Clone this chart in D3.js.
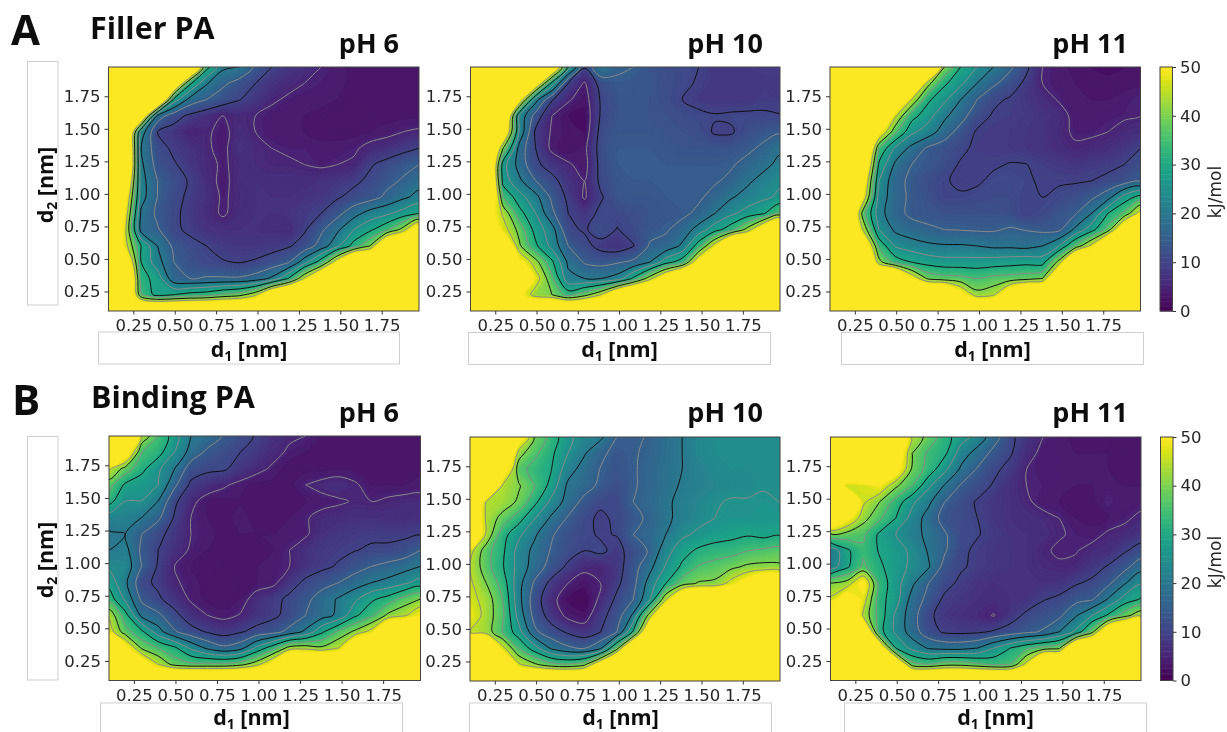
<!DOCTYPE html>
<html>
<head>
<meta charset="utf-8">
<script src="https://cdn.jsdelivr.net/npm/d3@7"></script>
<style>
  html, body { margin: 0; background: #fff; }
  svg { display: block; }
  .tick text { font-family: "DejaVu Sans", sans-serif; font-size: 16.5px; fill: #262626; }
  .tick line, .domain { stroke: #333; }
  .head { font-family: "Open Sans", sans-serif; font-weight: 700; fill: #111; }
</style>
</head>
<body>
<svg id="chart" width="1227" height="732"></svg>
<script>
// free energy in kJ/mol, top row is d2 = 1.975, left column is d1 = 0.1
const fillerPH6 = [
  [70,70,70,70,70,70,32,21,20,14,10,8,7,5,4,3,3,3,3,3],
  [70,70,70,70,62,31,20.5,16,13,10,7.5,6,5,4.5,4,3,3,3,3,3],
  [70,70,70,70,28,18,15,12.5,10.2,8,5.5,4.5,4,4,3.5,3,3,3,3,3],
  [70,70,60,18,12,9,7,5,6,5,4,3.5,3.5,3,2.5,2.5,3,3,3,3],
  [70,70,23,10,8,5,5.5,4,6.5,5,4,3.5,3.5,3,3,3,3.5,4,5,5.5],
  [70,70,20,12,9,7.5,5.5,4,7.5,6,5,4.5,4.5,4,4,4.5,6,7,8.5,10],
  [70,70,21,13,10.5,8,6,4.5,6,6,5.5,5.5,5,4.5,5,5.5,9.5,11.5,13.5,15],
  [70,62,22,15,12,9.5,6.5,4,6.5,7,6.5,6.5,6.5,7,8,9,11,13.5,15.5,18],
  [70,54,22,15,11.5,9,7,4.5,6,7,7,7,7.5,8,9.5,11.5,13,16,19,21.5],
  [70,50,19,14,11,8.5,6.5,4.5,6.5,7,7,7.5,8.5,10,13.5,18,22,24,27,30],
  [70,47,18,15.5,11,9,7.5,7,7,7,6.5,6,9.5,14,19,25,29,34,42,58],
  [70,48,30,20,14,11.5,10,8.5,8,8,8.5,9.5,12,17,24,32,40,62,70,70],
  [70,60,30,22,15,12.5,11,10.3,9.8,10.5,12,14.5,23,33,50,70,70,70,70,70],
  [70,70,32,28,16.5,15,15.5,15.5,15.5,17,21,30,46,62,70,70,70,70,70,70],
  [70,70,35,28,30,32,33,36,38,44,60,70,70,70,70,70,70,70,70,70],
  [70,70,70,70,70,70,70,70,70,70,70,70,70,70,70,70,70,70,70,70]
];
const fillerPH10 = [
  [70,70,70,70,70,60,28,10.5,19.5,16,15,13,12,11,10,8,8,8.5,9,9],
  [70,70,70,70,55,28,10,4.5,12,14,13.5,13,12,11,9.5,8,8,8,8,8],
  [70,70,70,52,22,10.5,5.5,3,10.5,13,13.5,13,12,10,8.5,8,8,8,9,8.5],
  [70,70,65,24,13,5,2.5,2,10.5,13,13,13,12.5,12,11,10.3,10.6,10.8,10.5,10.2],
  [70,70,58,24,9,4.5,3,2.5,11.5,13.5,13.5,13.5,13,12.5,12,9.5,9.5,12,13.5,14.5],
  [70,70,40,18,10,4,2.5,4,12,14,14,14,13.5,13,13,13,13,14,16,19],
  [70,70,27,18,11,8,5.5,3.5,11.5,14,14,14,14,14,14,14,14.5,16.5,18.5,21.5],
  [70,70,28,21,15,11.5,7.5,5,11,13.5,14,14,14,14,14,14.5,16,19,22,24],
  [70,70,35,27,21.5,14,9,4.5,9.5,13,13.5,13.5,14,14,14.3,16.5,19.5,22,24,26],
  [70,55,44,32,25,16,10,8,11,11,12,13,13.5,14,16,20,24,27,29.5,36],
  [70,60,48,38,28,22,11,9.5,12,9.8,11.5,13.5,14.5,17,22,28,33,42,56,70],
  [70,70,62,41,31,23.5,15,11.5,8.5,7.5,9.8,15.5,16.5,21,33,48,70,70,70,70],
  [70,70,70,52,42,31,19,14.5,13.5,14.5,16,20,28,33,52,70,70,70,70,70],
  [70,70,70,70,48,36,21.5,20,20,22,31,43,56,70,70,70,70,70,70,70],
  [70,70,70,52,42,40,33,38,45,60,70,70,70,70,70,70,70,70,70,70],
  [70,70,70,70,70,70,70,70,70,70,70,70,70,70,70,70,70,70,70,70]
];
const fillerPH11 = [
  [70,70,70,70,70,70,70,40,30,25,20,16,11,5,4,3,2.5,2,2.5,3],
  [70,70,70,70,70,68,42,31,26,20,16,12.5,9,5,4,3.5,3,3,3,3],
  [70,70,70,70,65,45,31,26,20,15,11,9.5,8,6.5,4.7,3.5,3.5,3.5,4,5],
  [70,70,70,70,46,32,27,21,17,12,9.5,9,8.5,7.5,6.5,4,4,4.2,4.6,5],
  [70,70,70,52,36,26,22.5,17.5,13,9.5,8.5,8.5,8,7.5,6,4.5,4.5,5,6,6.5],
  [70,70,70,35,24,18.5,14.2,12.5,11,9,8.5,8.5,8,7.5,6.5,5.5,6,6.5,8,10],
  [70,70,62,29,19,15,13.5,12,9.5,9,9.5,10.2,10.1,9,8.5,8,8.5,9,10,12],
  [70,70,55,25,16.5,14,12,10.4,9.2,9.5,10.8,11,10.5,9.5,9.5,9.6,10,11,12.5,14],
  [70,70,50,23,17,14,12.5,10.5,10.5,11,11.5,11.5,10,10,11,12,14,18,27,32],
  [70,70,38,22,16.5,14,13,12.5,12.5,12.5,12.5,12,10,11,13,14.5,20,30,36,48],
  [70,70,45,25,19,17,16,15,14.8,14.5,14.5,15.5,14.8,14,14,21,28,37,58,70],
  [70,70,60,34,24.5,22.5,21,20.5,20.5,20,19,19,18.5,20,25,36,47,68,70,70],
  [70,70,70,42,33,30,28,27,27,27,27.5,28,28.5,28,42,68,70,70,70,70],
  [70,70,70,70,70,50,39,37,36.5,35,36.5,37,38,40,65,70,70,70,70,70],
  [70,70,70,70,70,70,70,70,53,42,44,58,70,70,70,70,70,70,70,70],
  [70,70,70,70,70,70,70,70,70,70,70,70,70,70,70,70,70,70,70,70]
];
const bindingPH6 = [
  [70,70,44,35,27,20,18,14.5,12,9.5,7,5.5,5,3.5,3.5,3,3,3,3,3],
  [70,56,35,32,25,18,14,12,10,8.5,6,4.5,3.5,3,3,3,3,3,3,3],
  [46,38,31.5,26,20,12.5,11,10.7,8,6,4.5,2.5,3,3,3,3,3,3,3,3],
  [37,29,27,25,16,9,7,5.5,4,3,3,3,5,6,7,5.5,3.5,3.5,3.5,4],
  [32,25,25,20,11,6,3.5,3,3.5,3,3,3,3.5,4,4.5,5.3,5,5.5,6,6],
  [22,22,20,16,9.5,5,3.5,3,4,3,3,3.5,4.7,6,6.5,7,7,6.5,6.5,7],
  [19.5,20,15,11.5,8,5,4,3,3.5,3.5,3.5,4,4.5,7,8,8.5,9,9,9,9.5],
  [20,21.5,14,10,7,4.5,3.5,3,3,3,3.5,5,7,8.5,9,9.8,10.7,10.8,12,15],
  [24,23,15,9.5,5,3.5,3,3,3,3.5,4,5,7.5,9,10.5,13,15,16.5,18,20],
  [28,21,11.5,9,5.5,4,3,2.5,3,3.5,4,8,11,13,15,17.5,20,21.5,24,27],
  [33,24,14,10.8,7.5,4.5,3,2.5,3.5,6.5,8.5,11,13.5,17.5,20.5,24,29,32,37,40],
  [44,32,18.5,16,11.5,7,5,4,5.2,7.5,9,11.5,15,18,21,29,34,41,44,50],
  [48,37,31,22,15.5,12,9.5,8,9.5,11.5,13,16.5,21,29,36,41,47,65,70,70],
  [70,53,39,35,31,24,19,16,18,26,33,42,43,41,45,62,70,70,70,70],
  [70,70,56,45,38,36,36,36,38,43,52,70,70,70,70,70,70,70,70,70],
  [70,70,70,70,70,70,70,70,70,70,70,70,70,70,70,70,70,70,70,70]
];
const bindingPH10 = [
  [70,70,70,55,39,33,26,23,21,15,14,15.5,18,20,23,24,24,24,24,24],
  [70,70,70,42,36,31,25,20.5,16,13.5,14.5,16,18,20,23,24,24,24,24,24],
  [70,70,58,37,33,30,22,18,14.8,13,14.5,16.5,18.5,20,22,23.5,24,24,24,24],
  [70,70,44,40.5,35,28,19,17,14,12,14.5,16.5,18.5,20.5,22,23,23.5,23.5,24.5,24],
  [70,44,43,39,31,23.5,18,13.5,11,11,15,17,19,21.5,23,24.5,25.5,25.5,26,25],
  [62,44,38,32,25,19,14.5,11.5,9,11,13.5,16,19,21.5,23.5,25,26,26,26,26.5],
  [62,44,32,26,20.5,15.5,12.5,11,9.5,10.2,15,17,20,24,26,27.5,28.5,29.5,28.5,29.5],
  [47,37,31,23,18.5,14.5,12,10,11,8.5,12,15.5,23,28,31,32.5,33,35,36,37],
  [45,37,30.5,23,17.5,13,9,6,5.5,8,13,18.5,25.5,31,35.5,37,39,41,41.5,41],
  [46,40,33,21.5,14,8.5,5,3,5,9,13.5,22,30,37.5,40.5,41,47,54,62,60],
  [47,43,35,21.5,12,6.5,2,1,6,11,15,24.5,45,62,70,70,70,70,70,70],
  [49,43,36,23,13,8,4,3,8.5,12.5,21,43,64,70,70,70,70,70,70,70],
  [45,43,35,27,16,12,9.5,7.5,10,15,31,60,70,70,70,70,70,70,70,70],
  [70,68,47,35,27,19.5,16,15,19.5,38,66,70,70,70,70,70,70,70,70,70],
  [70,70,70,46,41,37,36,39,54,70,70,70,70,70,70,70,70,70,70,70],
  [70,70,70,70,70,70,70,70,70,70,70,70,70,70,70,70,70,70,70,70]
];
const bindingPH11 = [
  [70,70,70,70,62,44,38,32,27,23,17,11,7.5,5,4,3,3,3,2.5,3],
  [70,70,70,70,58,40,34,31,22.5,18,13.5,10.5,6.5,4,4,3.5,3.5,3.5,3,3],
  [70,70,70,70,54,39,33,26,19,14.5,11,8.5,5,4,4,3.5,3.5,3.5,3,3],
  [70,46,47,50,41,35,26,19.5,14.5,12,9.5,7,5,4.5,4,3.5,3.5,4,3.5,3.5],
  [70,68,46,40,33,26,21,15,12,9.5,8,7,5.5,4,3.5,3,3,5,3.5,4],
  [62,52,42,36,30,23,18,13,11.5,10,8,7,6.5,6,5,3.5,3,3.5,4.5,5.7],
  [39,38,36,29,25,21.5,19,15.5,11.5,10.3,8.5,7.5,7,6.5,5.3,4.5,4,5.5,6,7.5],
  [21,29,34,29.5,27,24,19.5,15.5,11,9,8,7.5,7,5.5,4.5,4.8,6,6.5,9.5,12],
  [22,29,36,31,27,24,20.5,13,10.5,9,8,7.5,7,6,5.5,5.7,8,10.5,13.5,18],
  [40,42,52,33,27,21,15,11.5,9,7.5,7,7,7,7,7.5,9.5,11,14,19.5,24.5],
  [46,55,48,32,27,18,13.5,9,8,7,6.5,7,7.5,9.7,11,13.5,14.5,20.5,27,30.5],
  [70,70,44,33,24,17,11,8,7,6,4.8,8,11,12.5,14,19.5,25,31,38,44],
  [70,70,62,32,24,17.5,12,9.3,9,9.3,10.5,12,14,15.5,20,26,38,60,70,70],
  [70,70,70,56,30,23.5,19.5,18.5,18.5,20,25,30,34,37,39,64,70,70,70,70],
  [70,70,70,70,60,37,35,38,38,36,34,35,47,70,70,70,70,70,70,70],
  [70,70,70,70,70,70,70,70,70,70,70,70,70,70,70,70,70,70,70,70]
];

const nmTicks = [0.25, 0.5, 0.75, 1.0, 1.25, 1.5, 1.75];
const energyTicks = [0, 10, 20, 30, 40, 50];
const blackLevels = [10, 20, 30, 40];
const grayLevels = [5, 15, 25, 35, 45];

const d1Domain = [0.1, 1.975];
const d2Domain = [0.1, 1.975];

const panels = [
  { rows: fillerPH6, title: "pH 6", x: [108.5, 419], y: [67, 311], titleX: 399, titleY: 53, box: [98.5, 332, 301, 32], labelY: 357 },
  { rows: fillerPH10, title: "pH 10", x: [470.5, 780], y: [67, 311], titleX: 763, titleY: 53, box: [468.5, 332.5, 302, 32], labelY: 357 },
  { rows: fillerPH11, title: "pH 11", x: [830, 1140.5], y: [67, 311], titleX: 1128, titleY: 53, box: [841.5, 332.5, 302, 32], labelY: 357 },
  { rows: bindingPH6, title: "pH 6", x: [109, 420.5], y: [436, 680.5], titleX: 399, titleY: 422, box: [100.5, 703, 302, 40], labelY: 725 },
  { rows: bindingPH10, title: "pH 10", x: [470, 780], y: [437, 681], titleX: 763, titleY: 422, box: [469.5, 703, 302, 40], labelY: 725 },
  { rows: bindingPH11, title: "pH 11", x: [830.5, 1141], y: [437, 680.5], titleX: 1128, titleY: 422, box: [844.5, 703, 302, 40], labelY: 725 }
];

const svg = d3.select("#chart");
svg.append("defs")
  .append("filter")
  .attr("id", "soft")
  .attr("x", 0).attr("y", 0).attr("width", 1).attr("height", 1)
  .attr("filterUnits", "objectBoundingBox")
  .append("feGaussianBlur")
  .attr("stdDeviation", 0.45);

const root = svg.append("g").attr("filter", "url(#soft)");
root.append("rect").attr("width", 1227).attr("height", 732).attr("fill", "#fff");

const color = (v) => d3.interpolateViridis(Math.max(0, Math.min(1, v / 50)));

function labelWithSub(g, x, y, sub, rotate) {
  const t = g.append("text")
    .attr("class", "head")
    .attr("font-size", 21.5)
    .attr("text-anchor", "middle")
    .attr("transform", rotate ? `translate(${x},${y}) rotate(-90)` : `translate(${x},${y})`);
  t.append("tspan").text("d");
  t.append("tspan").attr("font-size", 14).attr("dy", 4).text(sub);
  t.append("tspan").attr("dy", -4).text(" [nm]");
}

function drawPanel(panel, i) {
  const g = root.append("g");
  const x = d3.scaleLinear().domain(d1Domain).range(panel.x);
  const y = d3.scaleLinear().domain(d2Domain).range([panel.y[1], panel.y[0]]);
  const w = panel.x[1] - panel.x[0];
  const h = panel.y[1] - panel.y[0];

  const nCols = panel.rows[0].length;
  const nRows = panel.rows.length;
  // contour coordinates have samples at i + 0.5
  const colToD1 = d3.scaleLinear().domain([0.5, nCols - 0.5]).range(d1Domain);
  const rowToD2 = d3.scaleLinear().domain([0.5, nRows - 0.5]).range([d2Domain[1], d2Domain[0]]);

  const clipId = `clip-${i}`;
  g.append("clipPath").attr("id", clipId)
    .append("rect").attr("x", panel.x[0]).attr("y", panel.y[0]).attr("width", w).attr("height", h);

  const contours = d3.contours().size([nCols, nRows]);
  const values = panel.rows.flat();
  const ringLine = d3.line()
    .x((p) => x(colToD1(p[0])))
    .y((p) => y(rowToD2(p[1])))
    .curve(d3.curveCatmullRomClosed.alpha(0.5));
  const toPath = (geo) => geo.coordinates
    .map((poly) => poly.map((ring) => ringLine(ring.slice(0, -1))).join(""))
    .join("");

  const plot = g.append("g").attr("clip-path", `url(#${clipId})`);
  plot.append("rect")
    .attr("x", panel.x[0]).attr("y", panel.y[0]).attr("width", w).attr("height", h)
    .attr("fill", color(0));

  plot.selectAll("path.band")
    .data(contours.thresholds(d3.range(0, 50, 0.5))(values))
    .join("path")
    .attr("class", "band")
    .attr("d", toPath)
    .attr("fill", (d) => color(d.value + 0.25))
    .attr("stroke", (d) => color(d.value + 0.25))
    .attr("stroke-width", 0.3);

  plot.selectAll("path.gray")
    .data(contours.thresholds(grayLevels)(values))
    .join("path")
    .attr("class", "gray")
    .attr("d", toPath)
    .attr("fill", "none")
    .attr("stroke", "#8a8a8a")
    .attr("stroke-width", 1);

  plot.selectAll("path.black")
    .data(contours.thresholds(blackLevels)(values))
    .join("path")
    .attr("class", "black")
    .attr("d", toPath)
    .attr("fill", "none")
    .attr("stroke", "#111")
    .attr("stroke-width", 1);

  g.append("rect")
    .attr("x", panel.x[0]).attr("y", panel.y[0]).attr("width", w).attr("height", h)
    .attr("fill", "none").attr("stroke", "#444").attr("stroke-width", 1);

  const b = panel.box;
  g.append("rect")
    .attr("x", b[0]).attr("y", b[1]).attr("width", b[2]).attr("height", b[3])
    .attr("fill", "#fff").attr("stroke", "#cfcfcf").attr("stroke-width", 1);
  labelWithSub(g, b[0] + b[2] / 2, panel.labelY, "1", false);

  const xAxis = g.append("g")
    .attr("transform", `translate(0,${panel.y[1]})`)
    .call(d3.axisBottom(x).tickValues(nmTicks).tickFormat(d3.format(".2f")).tickSize(3.5).tickPadding(5));
  xAxis.select(".domain").remove();

  const yAxis = g.append("g")
    .attr("transform", `translate(${panel.x[0]},0)`)
    .call(d3.axisLeft(y).tickValues(nmTicks).tickFormat(d3.format(".2f")).tickSize(4).tickPadding(4));
  yAxis.select(".domain").remove();

  g.append("text").attr("class", "head")
    .attr("font-size", 27)
    .attr("text-anchor", "end")
    .attr("x", panel.titleX).attr("y", panel.titleY)
    .text(panel.title);
}

panels.forEach(drawPanel);

function drawColorbar(left, right, top, bottom, labelY) {
  const g = root.append("g");
  const scale = d3.scaleLinear().domain([0, 50]).range([bottom, top]);
  g.selectAll("rect")
    .data(d3.range(0, 50, 0.5))
    .join("rect")
    .attr("x", left)
    .attr("width", right - left)
    .attr("y", (d) => scale(d + 0.5))
    .attr("height", (d) => scale(d) - scale(d + 0.5) + 0.5)
    .attr("fill", (d) => color(d + 0.25));
  g.append("rect")
    .attr("x", left).attr("y", top).attr("width", right - left).attr("height", bottom - top)
    .attr("fill", "none").attr("stroke", "#444");
  const axis = g.append("g")
    .attr("transform", `translate(${right},0)`)
    .call(d3.axisRight(scale).tickValues(energyTicks).tickSize(3.5).tickPadding(4));
  axis.select(".domain").remove();
  g.append("text")
    .attr("transform", `translate(1221,${labelY}) rotate(-90)`)
    .attr("text-anchor", "middle")
    .attr("font-family", "DejaVu Sans, sans-serif")
    .attr("font-size", 17)
    .attr("fill", "#262626")
    .text("kJ/mol");
}
drawColorbar(1160, 1172.5, 67, 311, 192);
drawColorbar(1160.5, 1173, 437, 680.5, 562);

// boxes round the d2 labels
[[27.5, 61.5, 30.5, 243.5, 185], [27.5, 436.5, 30.5, 243.5, 560]].forEach(([bx, by, bw, bh, cy]) => {
  root.append("rect")
    .attr("x", bx).attr("y", by).attr("width", bw).attr("height", bh)
    .attr("fill", "#fff").attr("stroke", "#cfcfcf");
  labelWithSub(root, 53, cy, "2", true);
});

const heads = [
  { text: "A", x: 11, y: 45, size: 42 },
  { text: "Filler PA", x: 90, y: 39, size: 30.5 },
  { text: "B", x: 12, y: 415, size: 42 },
  { text: "Binding PA", x: 91, y: 408, size: 30.5 }
];
root.selectAll("text.top")
  .data(heads)
  .join("text")
  .attr("class", "head top")
  .attr("x", (d) => d.x)
  .attr("y", (d) => d.y)
  .attr("font-size", (d) => d.size)
  .text((d) => d.text);
</script>
</body>
</html>
